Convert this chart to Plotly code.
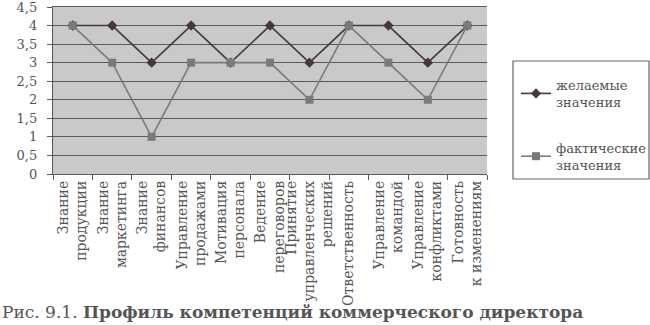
import plotly.graph_objects as go

categories = [
    "Знание<br>продукции",
    "Знание<br>маркетинга",
    "Знание<br>финансов",
    "Управление<br>продажами",
    "Мотивация<br>персонала",
    "Ведение<br>переговоров",
    "Принятие<br>управленческих<br>решений",
    "Ответственность",
    "Управление<br>командой",
    "Управление<br>конфликтами",
    "Готовность<br>к изменениям",
]
desired = [4, 4, 3, 4, 3, 4, 3, 4, 4, 3, 4]
actual = [4, 3, 1, 3, 3, 3, 2, 4, 3, 2, 4]
y_ticks = [0, 0.5, 1, 1.5, 2, 2.5, 3, 3.5, 4, 4.5]

FONT = "DejaVu Serif"
TXT = "#555555"
GRID = "#5a5a5a"

fig = go.Figure()
fig.add_trace(go.Scatter(
    x=categories, y=desired, mode="lines+markers",
    name="желаемые<br>значения", legendgroup="a",
    line=dict(color="#483838", width=1.6),
    marker=dict(symbol="diamond", size=8, color="#483838"),
))
fig.add_trace(go.Scatter(
    x=categories, y=actual, mode="lines+markers",
    name="фактические<br>значения", legendgroup="b",
    line=dict(color="#7a7a7a", width=1.6),
    marker=dict(symbol="square", size=8, color="#7a7a7a"),
))

W, H = 650, 325
L, R, T, B = 53, 487, 7, 174
pw, ph = R - L, B - T

def px(x):
    return (x - L) / pw

def py(y):
    return (B - y) / ph

fig.update_layout(
    width=W, height=H,
    margin=dict(l=L, r=W - R, t=T, b=H - B, pad=0, autoexpand=False),
    paper_bgcolor="white", plot_bgcolor="#c9c9c9",
    separators=", ",
    font=dict(family=FONT, size=13, color=TXT),
    showlegend=True,
    legend=dict(
        x=px(516), y=py(70), xanchor="left", yanchor="top",
        bgcolor="rgba(0,0,0,0)", borderwidth=0,
        traceorder="grouped", tracegroupgap=26,
        font=dict(family=FONT, size=13, color=TXT),
        itemwidth=30,
    ),
    xaxis=dict(
        tickangle=-90, tickson="boundaries", ticks="outside", ticklen=5,
        tickcolor=GRID, showline=True, mirror=True, linecolor=GRID,
        linewidth=1.4, showgrid=False,
        tickfont=dict(family=FONT, size=14, color=TXT),
        range=[-0.5, len(categories) - 0.5], automargin=False,
    ),
    yaxis=dict(
        range=[0, 4.5], tickvals=y_ticks, ticks="outside", ticklen=5,
        tickcolor=GRID, showline=True, linecolor=GRID, linewidth=1.3,
        gridcolor=GRID, gridwidth=1.4, zeroline=False, automargin=False,
        tickfont=dict(family=FONT, size=13, color=TXT),
        ticklabelstandoff=7, ticklabeloverflow="allow",
    ),
    shapes=[dict(
        type="rect", xref="paper", yref="paper",
        x0=px(513), x1=px(649), y0=py(179), y1=py(61),
        line=dict(color="#666666", width=1.2), fillcolor="rgba(0,0,0,0)",
    )],
    annotations=[dict(
        xref="paper", yref="paper", x=px(0), y=py(312),
        xanchor="left", yanchor="middle", showarrow=False,
        text="Рис. 9.1. <b>Профиль компетенций коммерческого директора</b>",
        font=dict(family=FONT, size=17, color=TXT),
    )],
)

fig.write_html(
    "out.html",
    config={"displayModeBar": False},
    post_script="document.body.style.margin='0';document.body.style.padding='0';",
)
